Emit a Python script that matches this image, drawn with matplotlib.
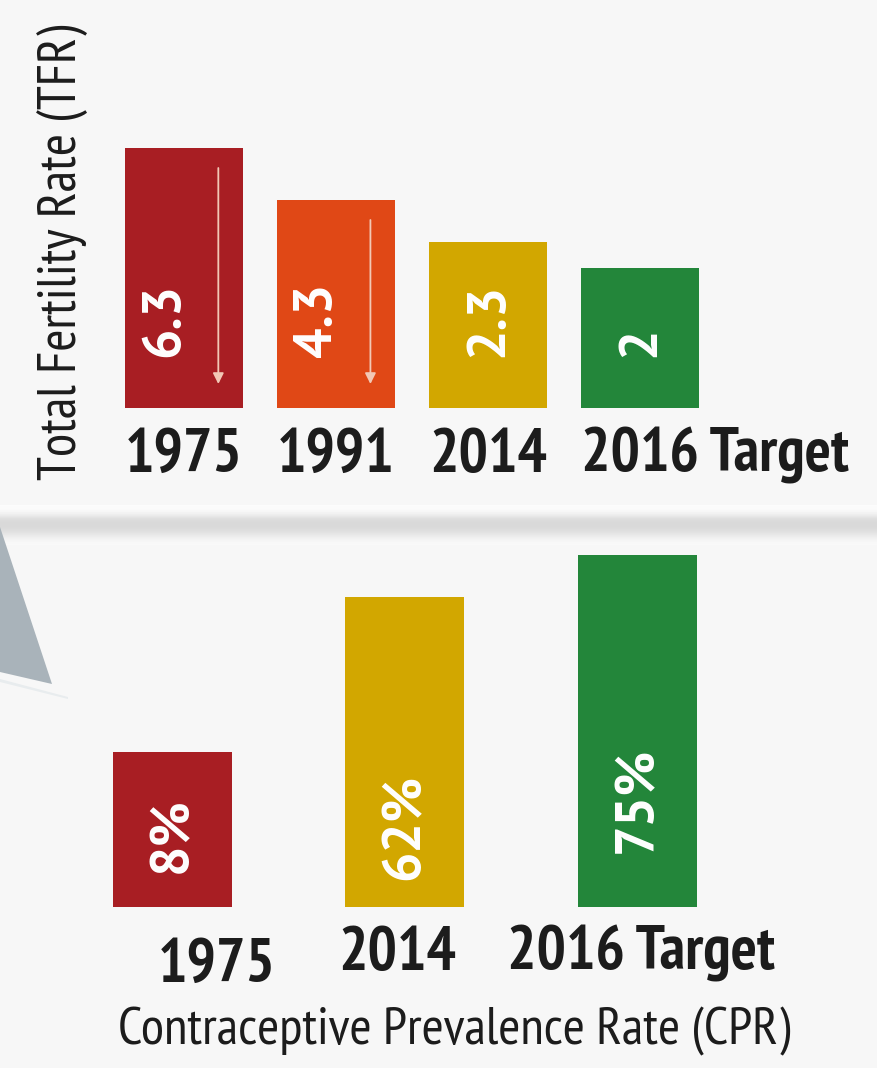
import numpy as np
import matplotlib
matplotlib.use("Agg")
import matplotlib.pyplot as plt
from matplotlib import font_manager
from matplotlib.patches import Polygon

# ---------------- data ----------------
tfr_years = ["1975", "1991", "2014", "2016 Target"]
tfr_values = ["6.3", "4.3", "2.3", "2"]
tfr_bar_heights = [10.0, 8.0, 6.4, 5.4]          # relative bar heights as drawn
tfr_arrows = [True, True, False, False]

cpr_years = ["1975", "2014", "2016 Target"]
cpr_values = ["8%", "62%", "75%"]
cpr_bar_heights = [5.0, 10.0, 11.35]             # relative bar heights as drawn

tfr_title = "Total Fertility Rate (TFR)"
cpr_title = "Contraceptive Prevalence Rate (CPR)"

# ---------------- fonts ----------------
names = {f.name for f in font_manager.fontManager.ttflist}


def pick(prefs):
    for p in prefs:
        if p in names:
            return p
    return "DejaVu Sans"


NARROW = pick(["PT Sans Narrow", "Fira Sans Condensed", "Roboto Condensed",
               "Open Sans Condensed", "Barlow Semi Condensed", "Liberation Sans Narrow"])
WIDE = pick(["PT Sans", "Liberation Sans"])

tfr_colors = ["#a81e23", "#e04816", "#d2a700", "#23863a"]
cpr_colors = ["#a81e23", "#d2a700", "#23863a"]
BG = "#f7f7f7"
TXT = "#1c1c1c"

W, H = 877, 1068
fig = plt.figure(figsize=(W / 100, H / 100), dpi=100, facecolor=BG)
renderer = fig.canvas.get_renderer()


def fx(px):
    return px / W


def fy(py):
    return 1 - py / H


def fit(t, target, vertical=False):
    """scale a text's font size so its extent matches target pixels"""
    bb = t.get_window_extent(renderer)
    cur = bb.height if vertical else bb.width
    t.set_fontsize(t.get_fontsize() * target / cur)
    return t


# ---------------- decorations ----------------
band = fig.add_axes([0, fy(545), 1, 40 / H])
grad = np.array([0.985, 0.975, 0.93, 0.86, 0.845, 0.85, 0.87, 0.91, 0.95, 0.975])[:, None]
band.imshow(np.repeat(grad, 10, axis=1), cmap="gray", vmin=0, vmax=1,
            aspect="auto", extent=[0, 1, 0, 1], interpolation="bicubic")
band.set_axis_off()

tri = Polygon([(fx(0), fy(527)), (fx(52), fy(684)), (fx(0), fy(672))],
              closed=True, transform=fig.transFigure, facecolor="#a9b3ba",
              edgecolor="none")
fig.add_artist(tri)
edge = Polygon([(fx(0), fy(679)), (fx(68), fy(697)), (fx(68), fy(699)), (fx(0), fy(682))],
               closed=True, transform=fig.transFigure, facecolor="#e8ecee",
               edgecolor="none")
fig.add_artist(edge)

# ---------------- TFR chart ----------------
base1 = 408
px_per_unit1 = 26.0
x0_1, xscale1 = 184.1, 152.1
ax1 = fig.add_axes([0, fy(base1), 1, base1 / H])
ax1.set_facecolor("none")
x1 = np.arange(len(tfr_years))
ax1.set_xlim(-x0_1 / xscale1, (W - x0_1) / xscale1)
ax1.set_ylim(0, base1 / px_per_unit1)
w1 = 118 / xscale1
ax1.bar(x1, tfr_bar_heights, width=w1, color=tfr_colors, zorder=2)
ax1.set_axis_off()

VAL_FS = None
YEAR_FS = None
for i, (xv, h, v, yr, arr) in enumerate(zip(x1, tfr_bar_heights, tfr_values, tfr_years, tfr_arrows)):
    xoff = -0.125 if arr else 0.0
    t = ax1.text(xv + xoff, 51 / px_per_unit1, v, rotation=90, ha="center", va="bottom",
                 color="white", fontsize=39, fontweight="bold", family=WIDE, zorder=3)
    if VAL_FS is None:
        fit(t, 74, vertical=True)
        VAL_FS = t.get_fontsize()
    else:
        t.set_fontsize(VAL_FS)
    if arr:
        xa = xv + 0.225
        ax1.annotate("", xy=(xa, 24 / px_per_unit1), xytext=(xa, h - 20 / px_per_unit1),
                     arrowprops=dict(arrowstyle="-|>", color="#f2c8b6", lw=1.3,
                                     mutation_scale=16, shrinkA=0, shrinkB=0),
                     zorder=3)
    t = ax1.text(xv - w1 / 2, -64 / px_per_unit1, yr, ha="left", va="baseline",
                 color=TXT, fontsize=45, fontweight="bold", family=NARROW)
    if YEAR_FS is None:
        fit(t, 118)
        YEAR_FS = t.get_fontsize()
    else:
        t.set_fontsize(YEAR_FS)

t = fig.text(fx(63), fy(252), tfr_title, rotation=90, ha="center", va="center",
             color=TXT, fontsize=35, family=NARROW)
fit(t, 455, vertical=True)

# ---------------- CPR chart ----------------
base2 = 907
top2 = 500
px_per_unit2 = 31.0
x0_2, xscale2 = 172.3, 232.5
ax2 = fig.add_axes([0, fy(base2), 1, (base2 - top2) / H])
ax2.set_facecolor("none")
x2 = np.arange(len(cpr_years))
ax2.set_xlim(-x0_2 / xscale2, (W - x0_2) / xscale2)
ax2.set_ylim(0, (base2 - top2) / px_per_unit2)
w2 = 119 / xscale2
ax2.bar(x2, cpr_bar_heights, width=w2, color=cpr_colors, zorder=2)
ax2.set_axis_off()

val_offsets = [34, 27, 54]
lab_dx = [44, -8, 4]
lab_base = [75, 63, 63]
for xv, v, yr, vo, dx, lb in zip(x2, cpr_values, cpr_years, val_offsets, lab_dx, lab_base):
    ax2.text(xv, vo / px_per_unit2, v, rotation=90, ha="center", va="bottom",
             color="white", fontsize=VAL_FS, fontweight="bold", family=WIDE, zorder=3)
    ax2.text(xv + dx / xscale2, -lb / px_per_unit2, yr, ha="center", va="baseline",
             color=TXT, fontsize=YEAR_FS, fontweight="bold", family=NARROW)

t = fig.text(fx(454), fy(1044), cpr_title, ha="center", va="baseline",
             color=TXT, fontsize=35, family=NARROW)
fit(t, 672)

fig.savefig("out.png", dpi=100, facecolor=BG)
